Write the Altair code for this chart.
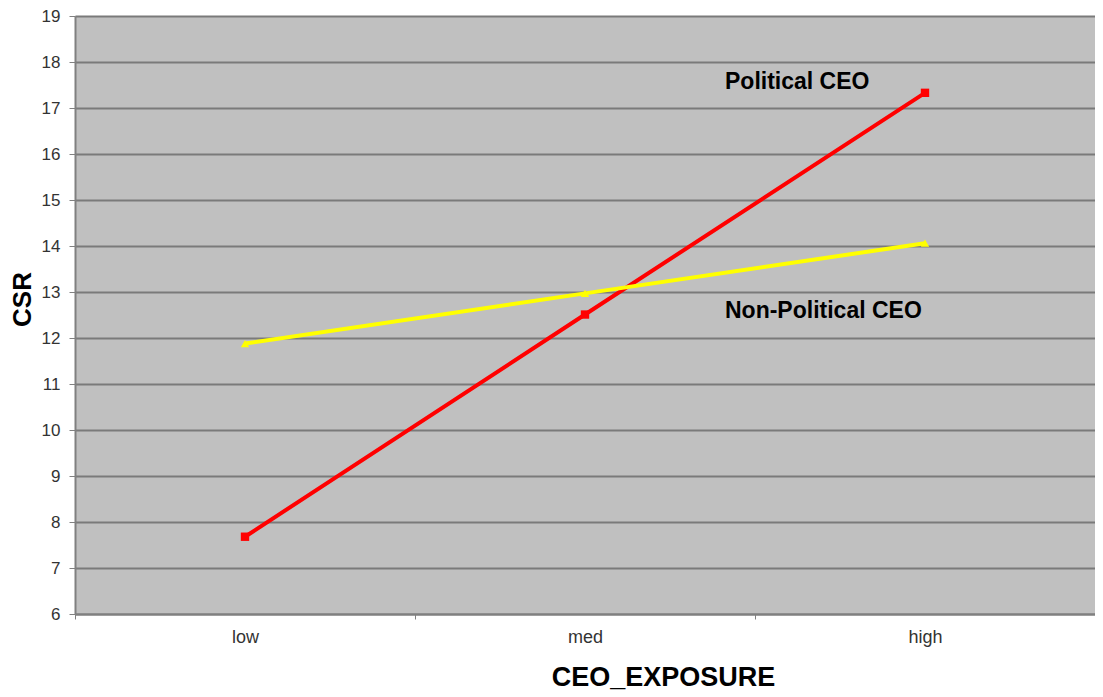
import altair as alt
import pandas as pd

categories = ["low", "med", "high"]
political = [7.68, 12.51, 17.33]
non_political = [11.88, 12.97, 14.06]

rows = []
for c, v in zip(categories, political):
    rows.append({"exposure": c, "csr": v, "series": "Political CEO"})
for c, v in zip(categories, non_political):
    rows.append({"exposure": c, "csr": v, "series": "Non-Political CEO"})
df = pd.DataFrame(rows)

labels = pd.DataFrame({
    "exposure": ["high", "high"],
    "csr": [17.57, 12.58],
    "text": ["Political CEO", "Non-Political CEO"],
})

x_enc = alt.X("exposure:N", sort=categories,
              scale=alt.Scale(domain=categories, paddingInner=0, paddingOuter=0),
              axis=alt.Axis(title="CEO_EXPOSURE", labelAngle=0, labelFontSize=18,
                            labelColor="#333333", labelFont="Arial", labelPadding=9,
                            tickBand="extent", tickSize=5, tickColor="#808080",
                            domainColor="#808080", domainWidth=2,
                            titleFont="Arial", titleFontSize=27, titleFontWeight="bold",
                            titleColor="#000000", titleX=588, titleY=71,
                            titleBaseline="alphabetic", titleAlign="center", grid=False))
y_enc = alt.Y("csr:Q",
              scale=alt.Scale(domain=[6, 19], nice=False, zero=False),
              axis=alt.Axis(title="CSR", values=list(range(6, 20)), labelFontSize=17,
                            labelColor="#333333", labelFont="Arial", tickSize=6,
                            tickColor="#808080", domainColor="#808080", domainWidth=2,
                            labelPadding=9, gridColor="#7a7a7a", gridWidth=2,
                            titleFont="Arial", titleFontSize=26, titleFontWeight="bold",
                            titleColor="#000000", titleX=-53, titleY=283,
                            titleAlign="center", titleBaseline="middle", titleAngle=270))

color = alt.Color("series:N", scale=alt.Scale(domain=["Political CEO", "Non-Political CEO"],
                                              range=["#FF0000", "#FFFF00"]), legend=None)
shape = alt.Shape("series:N", scale=alt.Scale(domain=["Political CEO", "Non-Political CEO"],
                                              range=["square", "triangle-up"]), legend=None)

lines = alt.Chart(df).mark_line(strokeWidth=4).encode(x=x_enc, y=y_enc, color=color, detail="series:N")
points = alt.Chart(df).mark_point(filled=True, size=70, opacity=1).encode(
    x=x_enc, y=y_enc, color=color, shape=shape)
text = alt.Chart(labels).mark_text(align="left", baseline="middle", dx=-200,
                                   fontSize=23, fontWeight="bold", font="Arial",
                                   color="#000000").encode(
    x=alt.X("exposure:N", sort=categories), y="csr:Q", text="text:N")

chart = alt.layer(lines, points, text).properties(
    width=1020, height=598,
    autosize=alt.AutoSizeParams(type="none"),
    padding={"left": 67, "top": 8, "right": 0, "bottom": 82},
).configure_view(fill="#C0C0C0", stroke=None)

chart.save("out.html", embed_options={"renderer": "svg", "actions": False})
